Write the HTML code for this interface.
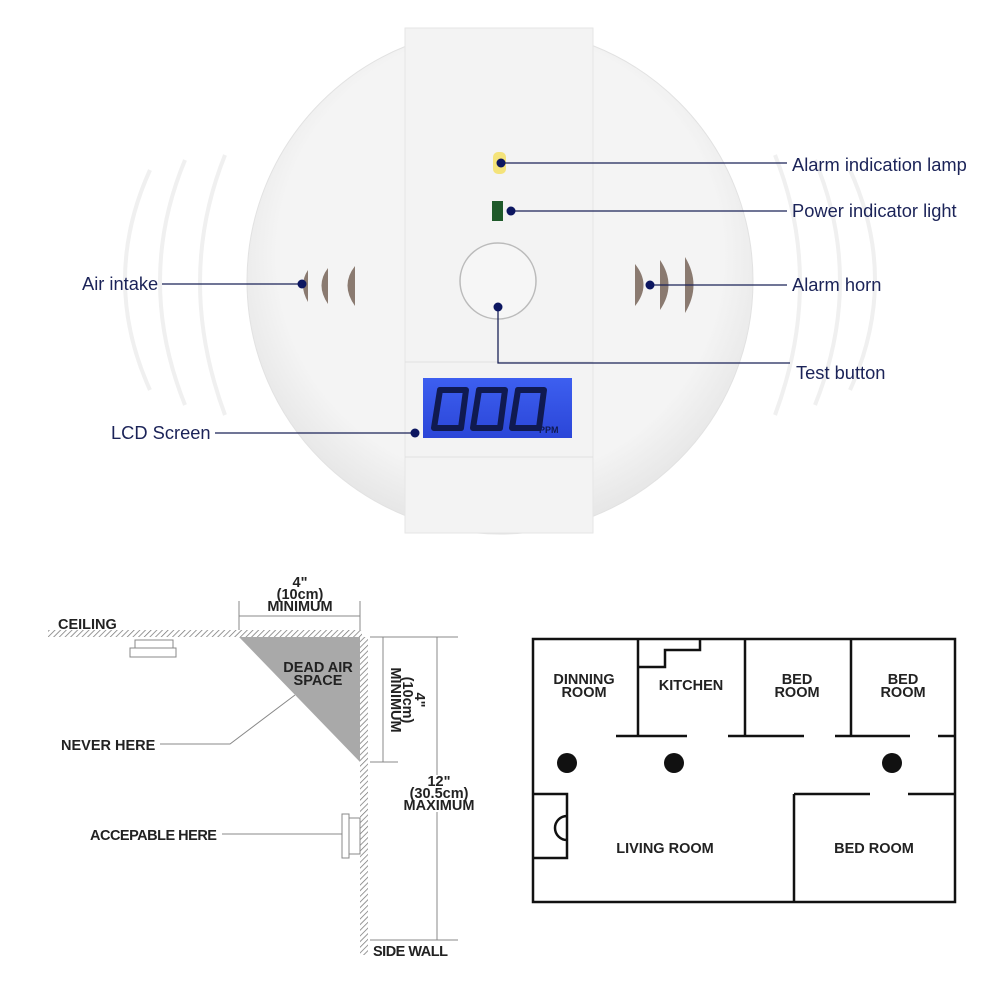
<!DOCTYPE html>
<html><head><meta charset="utf-8"><style>
body{margin:0;background:#fff;}
svg{display:block}
.l{font-family:"Liberation Sans",sans-serif;font-size:17.5px;fill:#1b2358}
.b{font-family:"Liberation Sans",sans-serif;font-weight:bold;font-size:14.5px;fill:#222}
</style></head><body>
<svg width="1002" height="1002" viewBox="0 0 1002 1002" xmlns="http://www.w3.org/2000/svg">
<defs>
<pattern id="h" width="4" height="4" patternUnits="userSpaceOnUse" patternTransform="rotate(45)"><rect width="4" height="4" fill="#fff"/><line x1="0" y1="0" x2="0" y2="4" stroke="#777" stroke-width="1.5"/></pattern>
<radialGradient id="cg" cx="0.5" cy="0.45" r="0.55"><stop offset="0.8" stop-color="#f4f4f4"/><stop offset="1" stop-color="#e6e6e6"/></radialGradient>
<linearGradient id="lcd" x1="0" y1="0" x2="0" y2="1"><stop offset="0" stop-color="#3d5ff0"/><stop offset="1" stop-color="#2b46d8"/></linearGradient>
</defs>
<g fill="none" stroke="#f0f0f0" stroke-width="4">
<path d="M150 170 Q100 280 150 390"/><path d="M185 160 Q135 280 185 405"/><path d="M225 155 Q175 280 225 415"/>
<path d="M850 170 Q900 280 850 390"/><path d="M815 160 Q865 280 815 405"/><path d="M775 155 Q825 280 775 415"/>
</g>
<circle cx="500" cy="281" r="253" fill="url(#cg)" stroke="#e2e2e2"/>
<rect x="405" y="28" width="188" height="505" fill="#f3f3f3" stroke="#e6e6e6"/>
<line x1="405" y1="362" x2="593" y2="362" stroke="#e0e0e0"/>
<line x1="405" y1="457" x2="593" y2="457" stroke="#e0e0e0"/>
<rect x="423" y="378" width="149" height="60" fill="url(#lcd)"/>
<g fill="none" stroke="#101a50" stroke-width="6" stroke-linejoin="round">
<path d="M440 390 L466 390 L461 428 L434 428 Z"/>
<path d="M479 390 L505 390 L500 428 L473 428 Z"/>
<path d="M518 390 L544 390 L539 428 L512 428 Z"/>
</g>
<text x="539" y="433" font-family="Liberation Sans,sans-serif" font-weight="bold" font-size="9" fill="#101a50">PPM</text>
<circle cx="498" cy="281" r="38" fill="#f6f6f6" stroke="#bbb" stroke-width="1.5"/>
<rect x="493" y="152" width="13" height="22" rx="5" fill="#f4e37a"/>
<rect x="492" y="201" width="11" height="20" fill="#1f5a2a"/>
<g fill="#8a7a70">
<path d="M308 270 Q298 285 308 302 Z"/><path d="M328 268 Q315 285 328 304 Z"/><path d="M355 266 Q340 285 355 306 Z"/>
<path d="M635 264 Q652 285 635 306 Z"/><path d="M660 260 Q677 285 660 310 Z"/><path d="M685 257 Q702 285 685 313 Z"/>
</g>
<g stroke="#1b2358" stroke-width="1.3" fill="none">
<line x1="501" y1="163" x2="787" y2="163"/><line x1="511" y1="211" x2="787" y2="211"/>
<line x1="650" y1="285" x2="787" y2="285"/><polyline points="498,307 498,363 790,363"/>
<line x1="162" y1="284" x2="302" y2="284"/><line x1="215" y1="433" x2="415" y2="433"/>
</g>
<g fill="#0c1660"><circle cx="501" cy="163" r="4.5"/><circle cx="511" cy="211" r="4.5"/><circle cx="650" cy="285" r="4.5"/><circle cx="498" cy="307" r="4.5"/><circle cx="302" cy="284" r="4.5"/><circle cx="415" cy="433" r="4.5"/></g>
<g style="font-size:18.3px">
<text class="l" style="font-size:18.3px" x="792" y="171">Alarm indication lamp</text>
<text class="l" style="font-size:18.3px" x="792" y="217">Power indicator light</text>
<text class="l" style="font-size:18.3px" x="792" y="291">Alarm horn</text>
<text class="l" style="font-size:18.3px" x="796" y="379">Test button</text>
<text class="l" style="font-size:18.3px" x="82" y="290">Air intake</text>
<text class="l" style="font-size:18.3px" x="111" y="439">LCD Screen</text>
</g>
<rect x="48" y="630" width="314" height="7" fill="url(#h)"/>
<rect x="360" y="637" width="8" height="318" fill="url(#h)"/>
<polygon points="239,637 360,637 360,762" fill="#a9a9a9"/>
<g stroke="#888" stroke-width="1" fill="none">
<line x1="239" y1="616" x2="360" y2="616"/><line x1="239" y1="601" x2="239" y2="630"/><line x1="360" y1="601" x2="360" y2="630"/>
<line x1="370" y1="637" x2="458" y2="637"/><line x1="370" y1="762" x2="398" y2="762"/><line x1="383" y1="637" x2="383" y2="762"/>
<line x1="437" y1="637" x2="437" y2="775"/><line x1="437" y1="812" x2="437" y2="940"/><line x1="370" y1="940" x2="458" y2="940"/>
<polyline points="160,744 230,744 295,695"/><line x1="222" y1="834" x2="342" y2="834"/>
<rect x="135" y="640" width="38" height="8"/><rect x="130" y="648" width="46" height="9"/>
<rect x="342" y="814" width="7" height="44"/><rect x="349" y="818" width="11" height="36"/>
</g>
<g class="b" text-anchor="middle">
<text class="b" x="300" y="587">4"</text><text class="b" x="300" y="599">(10cm)</text><text class="b" x="300" y="611">MINIMUM</text>
<text class="b" x="318" y="672">DEAD AIR</text><text class="b" x="318" y="685">SPACE</text>
<text class="b" x="439" y="786">12"</text><text class="b" x="439" y="798">(30.5cm)</text><text class="b" x="439" y="810">MAXIMUM</text>
</g>
<g transform="translate(407,700) rotate(90)"><text class="b" x="0" y="-8" text-anchor="middle">4"</text><text class="b" x="0" y="4" text-anchor="middle">(10cm)</text><text class="b" x="0" y="16" text-anchor="middle">MINIMUM</text></g>
<text class="b" x="58" y="629">CEILING</text>
<text class="b" x="61" y="750">NEVER HERE</text>
<text class="b" x="90" y="840" letter-spacing="-0.5">ACCEPABLE HERE</text>
<text class="b" x="373" y="956" letter-spacing="-0.5">SIDE WALL</text>
<g stroke="#111" stroke-width="2.5" fill="none">
<rect x="533" y="639" width="422" height="263"/>
<line x1="638" y1="639" x2="638" y2="736"/><line x1="745" y1="639" x2="745" y2="736"/><line x1="851" y1="639" x2="851" y2="736"/>
<line x1="616" y1="736" x2="687" y2="736"/><line x1="728" y1="736" x2="804" y2="736"/><line x1="835" y1="736" x2="910" y2="736"/><line x1="938" y1="736" x2="955" y2="736"/>
<polyline points="638,667 665,667 665,650 700,650 700,639"/>
<line x1="794" y1="794" x2="870" y2="794"/><line x1="908" y1="794" x2="955" y2="794"/><line x1="794" y1="794" x2="794" y2="902"/>
<polyline points="533,794 567,794 567,858 533,858"/>
<path d="M567 816 A12 12 0 0 0 567 840"/>
</g>
<g fill="#111"><circle cx="567" cy="763" r="10"/><circle cx="674" cy="763" r="10"/><circle cx="892" cy="763" r="10"/></g>
<g class="b" text-anchor="middle">
<text class="b" x="584" y="684">DINNING</text><text class="b" x="584" y="697">ROOM</text>
<text class="b" x="691" y="690">KITCHEN</text>
<text class="b" x="797" y="684">BED</text><text class="b" x="797" y="697">ROOM</text>
<text class="b" x="903" y="684">BED</text><text class="b" x="903" y="697">ROOM</text>
<text class="b" x="665" y="853">LIVING ROOM</text>
<text class="b" x="874" y="853">BED ROOM</text>
</g>
</svg>
</body></html>
